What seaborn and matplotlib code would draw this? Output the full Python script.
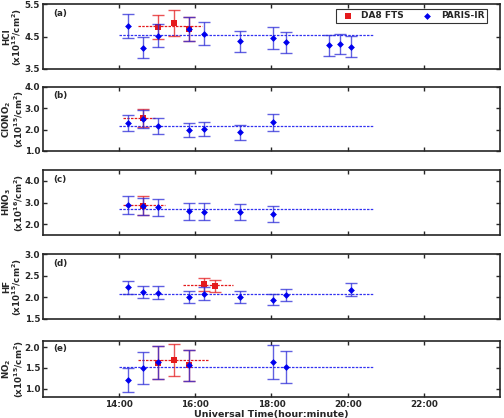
import numpy as np
import pandas as pd
import seaborn as sns
import matplotlib.pyplot as plt

# === DATA (hours UT, values, 1-sigma errors) ===
panel_tags = ["(a)", "(b)", "(c)", "(d)", "(e)"]
ylabels = ["HCl\n(x10$^{15}$/cm$^2$)", "ClONO$_2$\n(x10$^{15}$/cm$^2$)",
           "HNO$_3$\n(x10$^{16}$/cm$^2$)", "HF\n(x10$^{15}$/cm$^2$)",
           "NO$_2$\n(x10$^{15}$/cm$^2$)"]
ylims = [(3.5, 5.5), (1.0, 4.0), (1.5, 4.5), (1.5, 3.0), (0.8, 2.15)]
yticks = [[3.5, 4.5, 5.5], [1.0, 2.0, 3.0, 4.0], [2.0, 3.0, 4.0],
          [1.5, 2.0, 2.5, 3.0], [1.0, 1.5, 2.0]]

# PARIS-IR
paris_t = [
    [14.23, 14.62, 15.02, 15.83, 16.24, 17.17, 18.03, 18.39, 19.51, 19.79, 20.08],
    [14.23, 14.62, 15.02, 15.83, 16.24, 17.17, 18.03],
    [14.23, 14.62, 15.02, 15.83, 16.24, 17.17, 18.03],
    [14.23, 14.62, 15.02, 15.83, 16.24, 17.17, 18.03, 18.39, 20.08],
    [14.23, 14.62, 15.02, 15.83, 18.03, 18.39],
]
paris_v = [
    [4.82, 4.16, 4.53, 4.72, 4.59, 4.35, 4.46, 4.32, 4.23, 4.27, 4.19],
    [2.32, 2.51, 2.18, 1.99, 2.01, 1.87, 2.34],
    [2.89, 2.83, 2.77, 2.60, 2.57, 2.57, 2.48],
    [2.23, 2.12, 2.11, 2.01, 2.08, 2.01, 1.95, 2.05, 2.18],
    [1.21, 1.50, 1.64, 1.56, 1.65, 1.52],
]
paris_e = [
    [0.37, 0.32, 0.34, 0.37, 0.35, 0.33, 0.34, 0.33, 0.33, 0.32, 0.32],
    [0.39, 0.42, 0.36, 0.32, 0.33, 0.34, 0.39],
    [0.43, 0.40, 0.40, 0.40, 0.39, 0.38, 0.37],
    [0.15, 0.14, 0.15, 0.14, 0.15, 0.14, 0.13, 0.14, 0.15],
    [0.30, 0.38, 0.40, 0.37, 0.41, 0.38],
]
paris_mean = [4.55, 2.17, 2.68, 2.08, 1.52]
paris_span = (14.0, 20.7)

# DA8 FTS
da8_t = [[15.02, 15.43, 15.83], [14.62], [14.62], [16.24, 16.51], [15.02, 15.43, 15.83]]
da8_v = [[4.79, 4.92, 4.72], [2.55], [2.86], [2.30, 2.26], [1.63, 1.69, 1.56]]
da8_e = [[0.38, 0.39, 0.37], [0.42], [0.42], [0.15, 0.14], [0.40, 0.39, 0.38]]
da8_mean = [4.81, 2.55, 2.88, 2.28, 1.69]
da8_span = [(14.5, 16.18), (14.11, 14.93), (14.11, 15.2), (15.68, 17.0), (14.5, 16.33)]

xticks = [14, 16, 18, 20, 22]
xticklabels = ["14:00", "16:00", "18:00", "20:00", "22:00"]

RED = "#e41a1c"
BLUE = "#0000ee"

sns.set_style("ticks")
plt.rcParams["font.family"] = ["DejaVu Sans"]
plt.rcParams["font.weight"] = "bold"

fig = plt.figure(figsize=(5.04, 4.18), dpi=100)
# panel extents in pixels (top, bottom)
rows = [(4, 69), (87, 151), (170, 235), (254, 319), (341, 397)]
H = 418.0
for i, (top, bot) in enumerate(rows):
    ax = fig.add_axes([43 / 504, 1 - bot / H, 457 / 504, (bot - top) / H])

    red = pd.DataFrame({"t": da8_t[i], "v": da8_v[i], "e": da8_e[i]})
    blue = pd.DataFrame({"t": paris_t[i], "v": paris_v[i], "e": paris_e[i]})

    ax.hlines(da8_mean[i], *da8_span[i], colors=RED, linestyles=(0, (2, 1)), lw=0.9, zorder=1)
    ax.errorbar(red.t, red.v, yerr=red.e, fmt="none", ecolor=RED, elinewidth=1,
                capsize=4, alpha=0.75, zorder=2)
    sns.scatterplot(data=red, x="t", y="v", marker="s", s=14, color=RED, edgecolor=RED,
                    linewidth=0, ax=ax, zorder=3, label="DA8 FTS" if i == 0 else None)

    ax.hlines(paris_mean[i], *paris_span, colors=BLUE, linestyles=(0, (2, 1)), lw=0.9,
              alpha=0.8, zorder=1)
    ax.errorbar(blue.t, blue.v, yerr=blue.e, fmt="none", ecolor="#2b2bd8", elinewidth=1,
                capsize=4, alpha=0.75, zorder=4)
    sns.scatterplot(data=blue, x="t", y="v", marker="D", s=12, color=BLUE, edgecolor=BLUE,
                    linewidth=0, ax=ax, zorder=5, label="PARIS-IR" if i == 0 else None)

    ax.set_xlim(12, 24)
    ax.set_ylim(*ylims[i])
    ax.set_yticks(yticks[i])
    ax.set_yticklabels([f"{v:.1f}" for v in yticks[i]], fontsize=6.3, fontweight="bold")
    ax.set_xticks(xticks)
    if i == len(rows) - 1:
        ax.set_xticklabels(xticklabels, fontsize=6.3, fontweight="bold")
        ax.set_xlabel("Universal Time(hour:minute)", fontsize=6.8, fontweight="bold", labelpad=1)
    else:
        ax.set_xticklabels([])
        ax.set_xlabel("")
    ax.set_ylabel(ylabels[i], fontsize=6.3, fontweight="bold", linespacing=0.95)
    ax.yaxis.set_label_coords(-0.066, 0.5)
    ax.yaxis.label.set_va("center")
    ax.tick_params(direction="in", top=True, right=True, length=3, width=1, pad=2)
    for sp in ax.spines.values():
        sp.set_linewidth(1.2)
    ax.text(0.022, 0.86, panel_tags[i], transform=ax.transAxes, fontsize=6.3,
            fontweight="bold", va="center")

    if i == 0:
        leg = ax.legend(loc="upper right", ncol=2, fontsize=6.5, frameon=True, fancybox=False,
                        borderpad=0.3, handletextpad=0.5, columnspacing=1.6,
                        bbox_to_anchor=(0.972, 0.93), borderaxespad=0.0)
        leg.get_frame().set_edgecolor("black")
        leg.get_frame().set_linewidth(0.8)
        for txt in leg.get_texts():
            txt.set_fontweight("bold")

fig.savefig("out.png", dpi=100)
